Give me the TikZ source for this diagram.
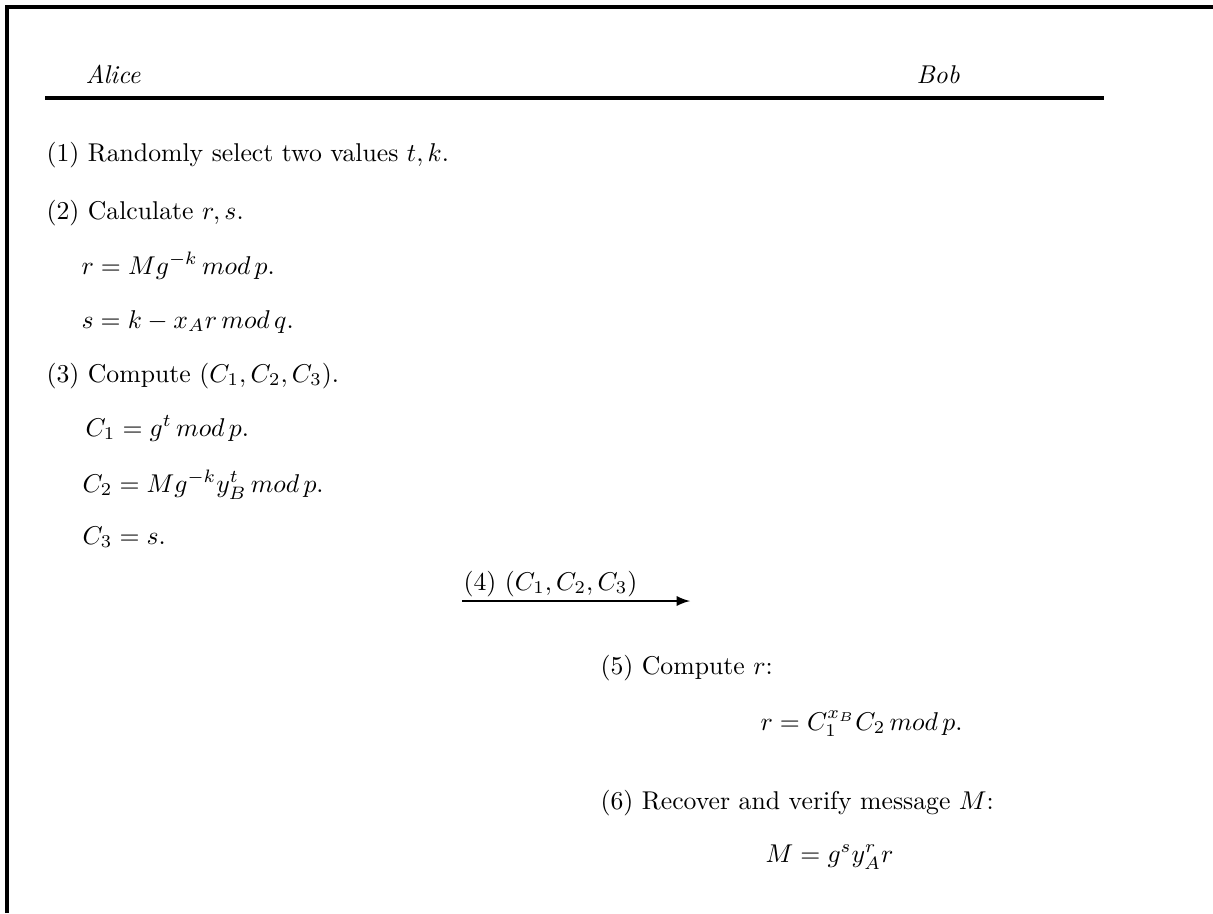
\documentclass[tikz,border=0pt]{standalone}
\usetikzlibrary{arrows}
\tikzset{
  >= latex,
  tx/.style={anchor=base west, inner sep=0pt},
  rl/.style={line width=1.2pt}
}
\begin{document}
\begin{tikzpicture}[x=0.389pt, y=-0.389pt]
  \useasboundingbox (0,0) rectangle (1213,913);
  \draw[rl] (7,913) -- (7,7) -- (1213,7);
  % header
  \node[tx] (alice) at (85,83) {\textit{Alice}};
  \node[tx] (bob) at (916,83) {\textit{Bob}};
  \coordinate (hl) at (45,98);
  \coordinate (hr) at (1104,98);
  \draw[rl] (hl) -- (hr);
  % Alice side
  \node[tx] (s1) at (46,161) {(1) Randomly select two values $t, k$.};
  \node[tx] (s2) at (46,219) {(2) Calculate $r, s$.};
  \node[tx] (s2a) at (81,274) {$r = Mg^{-k}\, mod\, p.$};
  \node[tx] (s2b) at (81,328) {$s = k - x_A r\, mod\, q.$};
  \node[tx] (s3) at (46,382) {(3) Compute $(C_1, C_2, C_3)$.};
  \node[tx] (s3a) at (85,436) {$C_1 = g^t\, mod\, p.$};
  \node[tx] (s3b) at (82,492) {$C_2 = Mg^{-k}y_B^t\, mod\, p.$};
  \node[tx] (s3c) at (82,544) {$C_3 = s.$};
  % message
  \node[tx] (msg) at (463,590) {(4) $(C_1, C_2, C_3)$};
  \coordinate (ms) at (462,601);
  \coordinate (me) at (690,601);
  \draw[->, line width=0.8pt] (ms) -- (me);
  % Bob side
  \node[tx] (s5) at (600,674) {(5) Compute $r$:};
  \node[tx] (s5a) at (760,730) {$r = C_1^{x_B}C_2\, mod\, p.$};
  \node[tx] (s6) at (600,809) {(6) Recover and verify message $M$:};
  \node[tx] (s6a) at (765,862) {$M = g^s y_A^r r$};
\end{tikzpicture}
\end{document}
